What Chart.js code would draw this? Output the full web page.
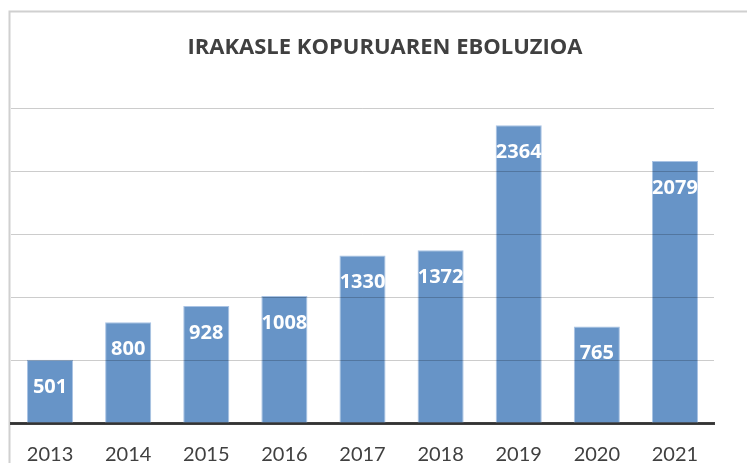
<!DOCTYPE html>
<html><head><meta charset="utf-8">
<script src="https://cdn.jsdelivr.net/npm/chart.js@4.4.0/dist/chart.umd.min.js"></script>
<style>
html,body{margin:0;padding:0;background:#fff;overflow:hidden}
#wrap{width:747px;height:463px;overflow:hidden;position:relative}
</style></head>
<body>
<div id="wrap"><canvas id="c" width="747" height="500"></canvas></div>
<script>
const titleText = "IRAKASLE KOPURUAREN EBOLUZIOA";
const years = ["2013","2014","2015","2016","2017","2018","2019","2020","2021"];
const teachers = [501, 800, 928, 1008, 1330, 1372, 2364, 765, 2079];
const yTicks = [0, 500, 1000, 1500, 2000, 2500];

const decor = {
  id: 'decor',
  beforeDraw(chart) {
    const ctx = chart.ctx;
    ctx.save();
    ctx.strokeStyle = '#d0d0d0';
    ctx.lineWidth = 2;
    ctx.beginPath();
    ctx.moveTo(9.5, 600);
    ctx.lineTo(9.5, 11.5);
    ctx.lineTo(800, 11.5);
    ctx.stroke();
    ctx.fillStyle = '#404040';
    let size = 21;
    ctx.font = 'bold ' + size + 'px "Open Sans", sans-serif';
    const w = ctx.measureText(titleText).width;
    size = Math.min(22, Math.max(18, size * 404 / w));
    ctx.font = 'bold ' + size.toFixed(1) + 'px "Open Sans", sans-serif';
    ctx.textAlign = 'center';
    ctx.textBaseline = 'middle';
    ctx.fillText(titleText, 385, 48);
    ctx.restore();
  },
  afterDraw(chart) {
    const ctx = chart.ctx;
    const meta = chart.getDatasetMeta(0);
    ctx.save();
    ctx.fillStyle = '#ffffff';
    ctx.font = 'bold 20px "Open Sans", sans-serif';
    ctx.textAlign = 'center';
    ctx.textBaseline = 'middle';
    meta.data.forEach((bar, i) => {
      ctx.fillText(String(chart.data.datasets[0].data[i]), bar.x, bar.y + 27);
    });
    ctx.restore();
  }
};

new Chart(document.getElementById('c'), {
  type: 'bar',
  data: {
    labels: years,
    datasets: [{
      data: teachers,
      backgroundColor: '#6794c7',
      borderColor: '#a9c3e4',
      borderWidth: 1,
      categoryPercentage: 1,
      barPercentage: 0.59
    }]
  },
  options: {
    responsive: false,
    animation: false,
    layout: { padding: { left: 11, right: 33, top: 108, bottom: 13 } },
    plugins: { legend: { display: false }, title: { display: false }, tooltip: { enabled: false } },
    scales: {
      x: {
        grid: { display: false, drawTicks: false },
        border: { display: true, color: '#404040', width: 3 },
        ticks: { color: '#404040', font: { family: 'Lato, "Open Sans", sans-serif', size: 20 }, padding: 20 }
      },
      y: {
        min: 0, max: 2500,
        afterBuildTicks(scale) { scale.ticks = yTicks.map(v => ({ value: v })); },
        grid: { color: 'rgba(0,0,0,0.2)', lineWidth: 1, drawTicks: false, z: 1 },
        border: { display: false },
        ticks: { display: false }
      }
    }
  },
  plugins: [decor]
});
</script>
</body></html>
